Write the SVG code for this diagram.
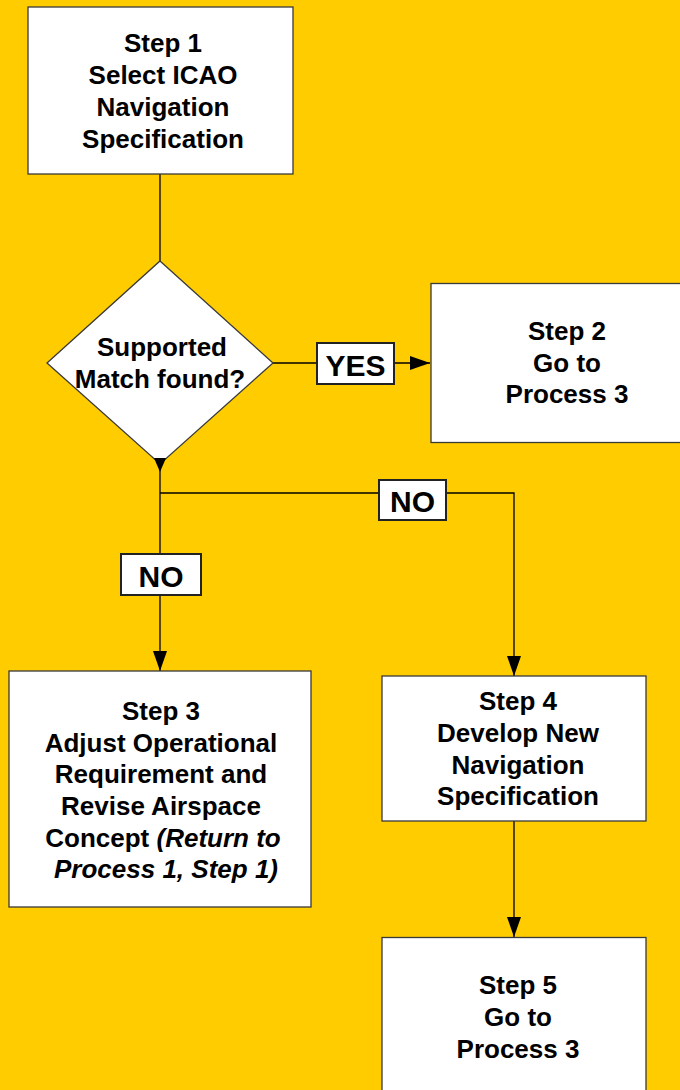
<svg xmlns="http://www.w3.org/2000/svg" width="680" height="1090" viewBox="0 0 680 1090">
<defs>
<style>
.box{fill:#fff;stroke:#3a3a3a;stroke-width:1.3}
.lbl{fill:#fff;stroke:#222;stroke-width:2}
.t{font-family:"Liberation Sans",Arial,sans-serif;font-weight:bold;font-size:26px;fill:#000;text-anchor:middle}
.big{font-size:30px}
.it{font-style:italic}
.c{fill:none;stroke:#000;stroke-width:1.3}
</style>
<marker id="ah" viewBox="0 0 20 14" refX="20" refY="7" markerWidth="20" markerHeight="14" markerUnits="userSpaceOnUse" orient="auto">
<path d="M0,0 L20,7 L0,14 Z" fill="#000"/>
</marker>
</defs>
<rect x="0" y="0" width="680" height="1090" fill="#FFCC00"/>

<g id="connectors">
<line class="c" x1="160" y1="174" x2="160" y2="261"/>
<line class="c" x1="273" y1="363" x2="430" y2="363" marker-end="url(#ah)"/>
<line class="c" x1="160" y1="464" x2="160" y2="671" marker-end="url(#ah)"/>
<polyline class="c" points="160,493 514,493 514,676" marker-end="url(#ah)"/>
<line class="c" x1="514" y1="821" x2="514" y2="937" marker-end="url(#ah)"/>
</g>

<g id="step1">
<rect class="box" x="28" y="7" width="265" height="167"/>
<text class="t" x="163" y="52">Step 1</text>
<text class="t" x="163" y="84">Select ICAO</text>
<text class="t" x="163" y="116">Navigation</text>
<text class="t" x="163" y="148">Specification</text>
</g>

<g id="decision">
<polygon class="box" points="160,261 273,363 160,464 47,363"/>
<polygon points="154,458 166,458 160,472" fill="#000"/>
<text class="t" x="162" y="356">Supported</text>
<text class="t" x="160" y="388">Match found?</text>
</g>

<g id="yes-label">
<rect class="lbl" x="317" y="343" width="77" height="41"/>
<text class="t big" x="355.5" y="376">YES</text>
</g>

<g id="step2">
<rect class="box" x="431" y="283.5" width="260" height="159"/>
<text class="t" x="567" y="340">Step 2</text>
<text class="t" x="567" y="372">Go to</text>
<text class="t" x="567" y="403">Process 3</text>
</g>

<g id="no-label-right">
<rect class="lbl" x="379" y="480" width="67" height="40"/>
<text class="t big" x="412.5" y="512">NO</text>
</g>

<g id="no-label-left">
<rect class="lbl" x="121" y="554" width="80" height="41"/>
<text class="t big" x="161" y="587">NO</text>
</g>

<g id="step3">
<rect class="box" x="9" y="671" width="302" height="236"/>
<text class="t" x="161" y="720">Step 3</text>
<text class="t" x="161" y="752">Adjust Operational</text>
<text class="t" x="161" y="783">Requirement and</text>
<text class="t" x="161" y="815">Revise Airspace</text>
<text class="t" x="163" y="847">Concept <tspan class="it">(Return to</tspan></text>
<text class="t it" x="166" y="878">Process 1, Step 1)</text>
</g>

<g id="step4">
<rect class="box" x="382" y="676" width="264" height="145"/>
<text class="t" x="518" y="710">Step 4</text>
<text class="t" x="518" y="742">Develop New</text>
<text class="t" x="518" y="774">Navigation</text>
<text class="t" x="518" y="805">Specification</text>
</g>

<g id="step5">
<rect class="box" x="382" y="937.5" width="264" height="170"/>
<text class="t" x="518" y="994">Step 5</text>
<text class="t" x="518" y="1026">Go to</text>
<text class="t" x="518" y="1058">Process 3</text>
</g>
</svg>
